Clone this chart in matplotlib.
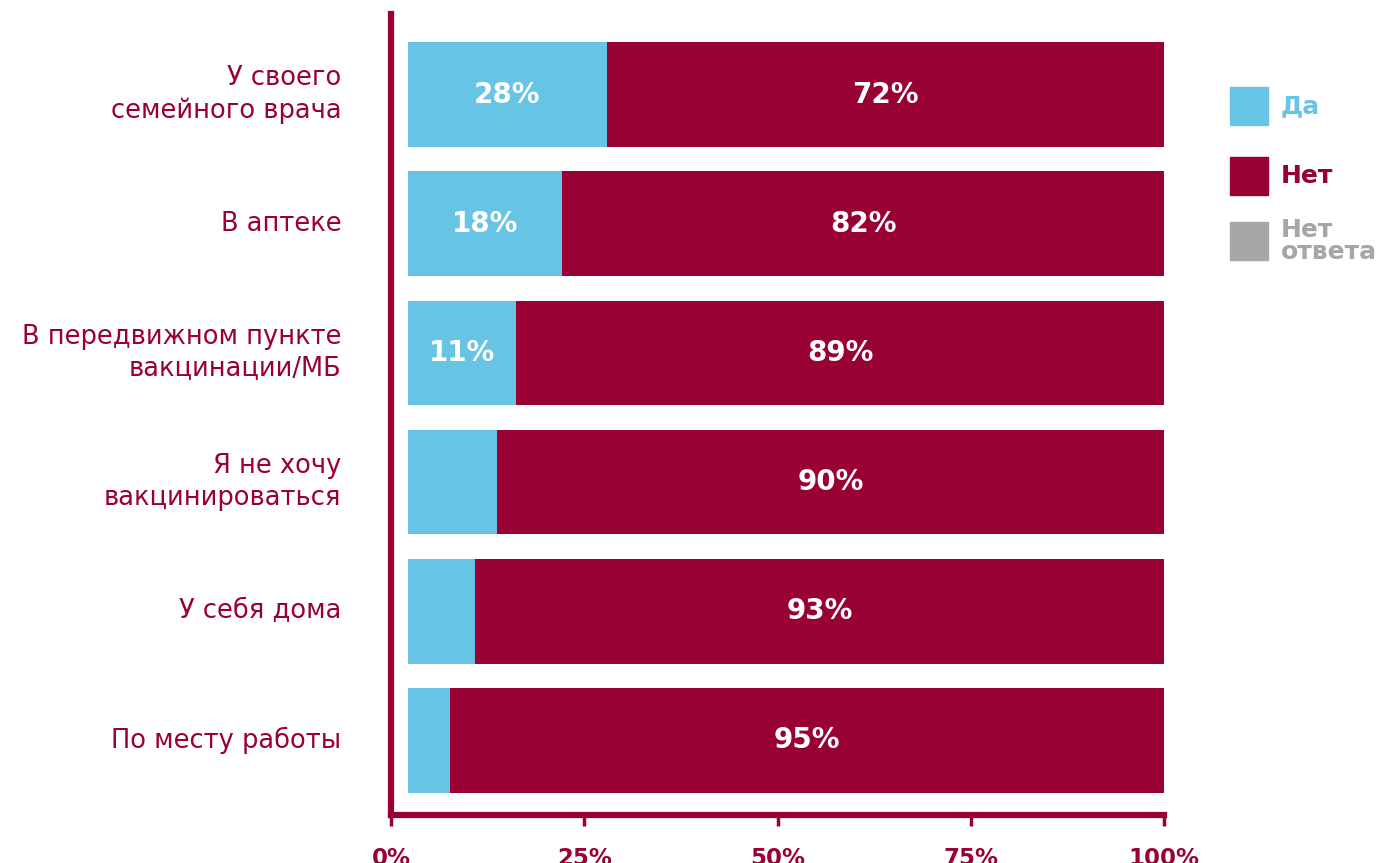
import matplotlib.pyplot as plt
from matplotlib.patches import Rectangle

# data (bar lengths, labels as printed)
categories = ["У своего\nсемейного врача", "В аптеке",
              "В передвижном пункте\nвакцинации/МБ", "Я не хочу\nвакцинироваться",
              "У себя дома", "По месту работы"]
yes_share = [26.3, 20.4, 14.3, 11.8, 8.9, 5.6]
yes_labels = ["28%", "18%", "11%", "", "", ""]
no_labels = ["72%", "82%", "89%", "90%", "93%", "95%"]
ticks = [0, 25, 50, 75, 100]
tick_labels = ["0%", "25%", "50%", "75%", "100%"]

BLUE = "#67C4E4"
RED = "#990033"
GREY = "#A6A6A6"

plt.rcParams['font.family'] = ['DejaVu Sans']

W, H = 1396, 863
fig = plt.figure(figsize=(W / 100, H / 100), dpi=100)

def fx(px):
    return px / W

def fy(py):
    return 1 - py / H

# decorative L-shaped axis with ticks
axd = fig.add_axes([fx(391), fy(815), fx(1164) - fx(391), fy(14) - fy(815)])
axd.set_xlim(0, 100)
axd.set_ylim(0, 1)
for s in ["top", "right"]:
    axd.spines[s].set_visible(False)
for s in ["left", "bottom"]:
    axd.spines[s].set_color(RED)
    axd.spines[s].set_linewidth(4.5)
    axd.spines[s].set_capstyle("projecting")
axd.set_yticks([])
axd.set_xticks(ticks)
axd.set_xticklabels(tick_labels, fontsize=16.5, fontweight="bold", color=RED)
axd.tick_params(axis="x", length=8, width=2.5, color=RED, pad=15)
axd.patch.set_alpha(0)

# bars
ax = fig.add_axes([fx(408), fy(805), fx(1164) - fx(408), fy(30) - fy(805)])
ax.patch.set_alpha(0)
ypos = list(range(len(categories)))
no_share = [100 - v for v in yes_share]
ax.barh(ypos, yes_share, height=0.81, color=BLUE)
ax.barh(ypos, no_share, left=yes_share, height=0.81, color=RED)
ax.set_xlim(0, 100)
ax.set_ylim(len(categories) - 0.5, -0.5)
ax.axis("off")

for i in ypos:
    if yes_labels[i]:
        ax.text(yes_share[i] / 2, i, yes_labels[i], ha="center", va="center",
                color="white", fontsize=20, fontweight="bold")
    ax.text(yes_share[i] + no_share[i] / 2, i, no_labels[i], ha="center", va="center",
            color="white", fontsize=20, fontweight="bold")
    ax.text(-0.088, i, categories[i], transform=ax.get_yaxis_transform(),
            ha="right", va="center", color=RED, fontsize=18.5, linespacing=1.3)

# legend
legend_items = [("Да", BLUE, 106), ("Нет", RED, 176), ("Нет\nответа", GREY, 241)]
for label, col, cy in legend_items:
    fig.add_artist(Rectangle((fx(1230), fy(cy + 19)), fx(38), fy(cy - 19) - fy(cy + 19),
                             transform=fig.transFigure, color=col))
    fig.text(fx(1281), fy(cy), label, ha="left", va="center", color=col,
             fontsize=18, fontweight="bold", linespacing=0.85)

fig.savefig("out.png", dpi=100)
